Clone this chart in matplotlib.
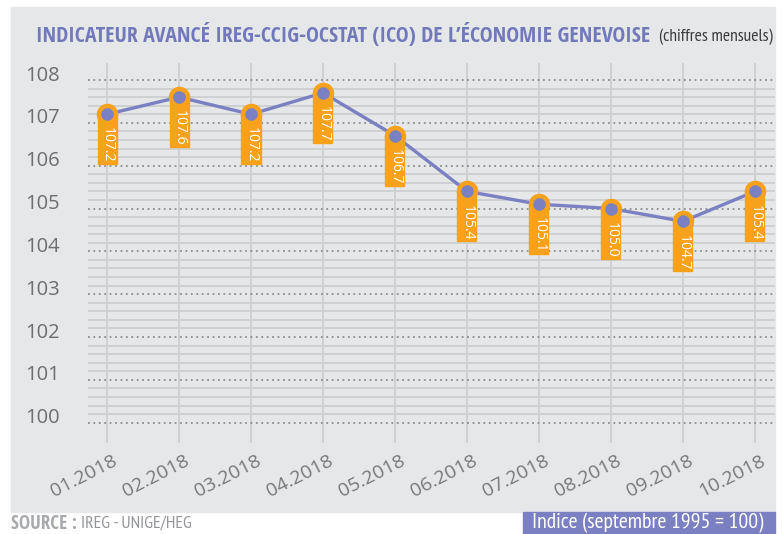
import matplotlib
matplotlib.use("Agg")
import matplotlib.pyplot as plt
import matplotlib.transforms as mtransforms
from matplotlib.patches import Rectangle
from matplotlib import font_manager
import numpy as np

months = ["01.2018", "02.2018", "03.2018", "04.2018", "05.2018",
          "06.2018", "07.2018", "08.2018", "09.2018", "10.2018"]
values = [107.2, 107.6, 107.2, 107.7, 106.7, 105.4, 105.1, 105.0, 104.7, 105.4]
yticks = [100, 101, 102, 103, 104, 105, 106, 107, 108]

avail = {f.name for f in font_manager.fontManager.ttflist}


def pick(cands, default):
    for c in cands:
        if c in avail:
            return c
    return default


NARROW_B = pick(["Open Sans Condensed", "Fira Sans Condensed", "Roboto Condensed",
                 "PT Sans Narrow", "Asap Condensed", "Barlow Semi Condensed"], "Roboto")
NARROW_R = pick(["PT Sans Narrow", "Roboto Condensed", "Fira Sans Condensed",
                 "Asap Condensed", "Barlow Semi Condensed"], "Roboto")
REG = "Open Sans"

W, H = 782, 534
fig = plt.figure(figsize=(W / 100, H / 100), dpi=100)
fig.patch.set_facecolor("white")

BG = "#e6e7e8"
BLUE = "#7a80c2"
ORANGE = "#f6a21c"

fig.patches.append(Rectangle((11 / W, 1 - 512 / H), (775 - 11) / W, (512 - 7) / H,
                             transform=fig.transFigure, color=BG, zorder=-5))
fig.patches.append(Rectangle((523 / W, 0), (775 - 523) / W, (534 - 512) / H,
                             transform=fig.transFigure, color=BLUE, zorder=-5))

ax_l, ax_r, ax_t, ax_b = 88, 775, 63, 443
ax = fig.add_axes([ax_l / W, 1 - ax_b / H, (ax_r - ax_l) / W, (ax_b - ax_t) / H])
ax.set_zorder(1)
ax.set_facecolor("none")
for s in ax.spines.values():
    s.set_visible(False)

x = np.arange(len(months))
ax.set_xlim((ax_l - 107) / 72, (ax_r - 107) / 72)
ppu = (422.7 - 80) / 8
ax.set_ylim(100 - (ax_b - 422.7) / ppu, 108 + (80 - ax_t) / ppu)

minor = [v / 10 for v in range(1000, 1081, 2) if v % 10 != 0]
for yv in minor:
    ax.axhline(yv, color="#cfd0d2", lw=1.4, zorder=1)
for yv in yticks:
    ax.axhline(yv, color="#8c8d90", lw=1.3, ls=(0, (1, 2)), zorder=1.5)
for xv in x:
    ax.axvline(xv, color="#cfd0d2", lw=1.4, zorder=1)

ax.plot(x, values, color=BLUE, lw=2.4, zorder=3)

for xi, v in zip(x, values):
    trans = fig.dpi_scale_trans + mtransforms.ScaledTranslation(xi, v, ax.transData)
    ax.add_patch(Rectangle((-0.095, -0.50), 0.19, 0.50, transform=trans,
                           color=ORANGE, zorder=4, clip_on=False))
    ax.annotate(f"{v:.1f}", (xi, v), xytext=(0, -9.5), textcoords="offset points",
                rotation=-90, ha="center", va="top", color="white",
                fontsize=10, family=REG, zorder=6)
ax.plot(x, values, ls="none", marker="o", ms=14.5, mfc=ORANGE, mec=ORANGE, zorder=5)
ax.plot(x, values, ls="none", marker="o", ms=8, mfc=BLUE, mec=BLUE, zorder=5.5)

ax.set_yticks(yticks)
ax.set_yticklabels([str(t) for t in yticks], family=REG, fontsize=14.5, color="#6d6e71")
ax.set_xticks(x)
ax.set_xticklabels(months, family=REG, fontsize=14, color="#77787b",
                   rotation=27, ha="right", rotation_mode="anchor")
ax.tick_params(axis="both", length=0)
ax.tick_params(axis="y", pad=20)
ax.tick_params(axis="x", pad=6)
for lab in ax.get_yticklabels():
    lab.set_transform(lab.get_transform() + mtransforms.ScaledTranslation(0, 7 / 100, fig.dpi_scale_trans))
for lab in ax.get_xticklabels():
    lab.set_transform(lab.get_transform() + mtransforms.ScaledTranslation(5 / 100, 0, fig.dpi_scale_trans))

renderer = fig.canvas.get_renderer()


def fit(t, target_w):
    bb = t.get_window_extent(renderer)
    t.set_fontsize(t.get_fontsize() * target_w / bb.width)


t1 = fig.text(36 / W, 1 - 35 / H,
              "INDICATEUR AVANCÉ IREG-CCIG-OCSTAT (ICO) DE L\u2019ÉCONOMIE GENEVOISE",
              family=NARROW_B, weight="bold", fontsize=16, color="#7279bb", va="center", ha="left")
fit(t1, 616)
t2 = fig.text(773 / W, 1 - 37 / H, "(chiffres mensuels)", family=NARROW_R, fontsize=12,
              color="#3a3a3c", va="center", ha="right")
fit(t2, 114)

s1 = fig.text(11 / W, 1 - 524 / H, "SOURCE :", family=NARROW_B, weight="bold", fontsize=10,
              color="#a7a9ac", va="center", ha="left")
fit(s1, 66)
s2 = fig.text(81 / W, 1 - 524 / H, "IREG - UNIGE/HEG", family=NARROW_R, fontsize=11,
              color="#939598", va="center", ha="left")
fit(s2, 111)
s3 = fig.text(532 / W, 1 - 523 / H, "Indice (septembre 1995 = 100)", family=NARROW_R, fontsize=13.5,
              color="white", va="center", ha="left")
fit(s3, 234)

fig.savefig("out.png", dpi=100, facecolor="white")
